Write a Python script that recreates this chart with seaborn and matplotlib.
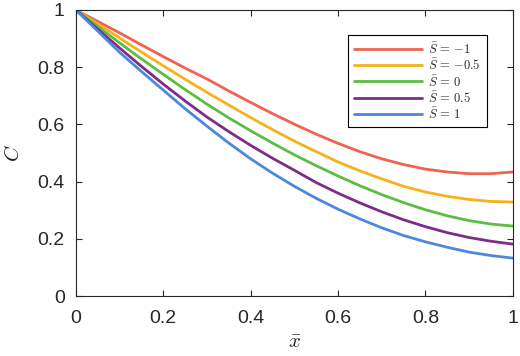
import numpy as np
import pandas as pd
import matplotlib
matplotlib.use("Agg")
import matplotlib.pyplot as plt
import seaborn as sns

# data
x_bar = [0.0, 0.05, 0.1, 0.15, 0.2, 0.25, 0.3, 0.35, 0.4, 0.45, 0.5,
         0.55, 0.6, 0.65, 0.7, 0.75, 0.8, 0.85, 0.9, 0.95, 1.0]
c_s_m1 = [1.0, 0.96, 0.92, 0.878, 0.837, 0.797, 0.759, 0.717, 0.677, 0.638, 0.601,
          0.566, 0.534, 0.505, 0.48, 0.46, 0.444, 0.434, 0.428, 0.428, 0.434]
c_s_m05 = [1.0, 0.951, 0.902, 0.853, 0.805, 0.758, 0.712, 0.668, 0.624, 0.582, 0.542,
           0.505, 0.469, 0.438, 0.41, 0.384, 0.364, 0.349, 0.338, 0.331, 0.329]
c_s_0 = [1.0, 0.942, 0.885, 0.829, 0.775, 0.722, 0.671, 0.623, 0.578, 0.535, 0.494,
         0.456, 0.42, 0.386, 0.355, 0.327, 0.302, 0.281, 0.264, 0.252, 0.245]
c_s_05 = [1.0, 0.933, 0.867, 0.803, 0.741, 0.682, 0.626, 0.575, 0.527, 0.482, 0.44,
          0.397, 0.36, 0.326, 0.295, 0.267, 0.243, 0.222, 0.205, 0.192, 0.182]
c_s_1 = [1.0, 0.926, 0.852, 0.785, 0.72, 0.655, 0.594, 0.535, 0.48, 0.43, 0.384,
         0.342, 0.304, 0.27, 0.239, 0.212, 0.19, 0.171, 0.154, 0.142, 0.133]

labels = [r'$\bar{S}\,=\,{-1}$', r'$\bar{S}\,=\,{-0.5}$', r'$\bar{S}\,=\,0$',
          r'$\bar{S}\,=\,0.5$', r'$\bar{S}\,=\,1$']
colors = ['#EF6350', '#F7B11B', '#5CBD42', '#7D2C87', '#4C88DD']
ticks = [0, 0.2, 0.4, 0.6, 0.8, 1]
tick_labels = ['0', '0.2', '0.4', '0.6', '0.8', '1']

df = pd.concat([
    pd.DataFrame({'x': x_bar, 'C': c, 'S': lab})
    for c, lab in zip([c_s_m1, c_s_m05, c_s_0, c_s_05, c_s_1], labels)
])

sns.set_style("ticks")
plt.rcParams['font.family'] = ['Liberation Sans', 'DejaVu Sans']
plt.rcParams['mathtext.fontset'] = 'cm'

fig = plt.figure(figsize=(5.2, 3.56), dpi=100)
ax = fig.add_axes([0.146, 0.168, 0.840, 0.804])

sns.lineplot(data=df, x='x', y='C', hue='S', palette=colors, linewidth=2.0, ax=ax)

ax.set_xlim(0, 1)
ax.set_ylim(0, 1)
ax.set_xticks(ticks)
ax.set_xticklabels(tick_labels)
ax.set_yticks(ticks)
ax.set_yticklabels(tick_labels)
ax.tick_params(direction='in', top=True, right=True, labelsize=14, length=4,
               width=0.8, color='#262626', labelcolor='#262626')
ax.tick_params(axis='x', pad=10)
ax.tick_params(axis='y', pad=8)
for sp in ax.spines.values():
    sp.set_visible(True)
    sp.set_linewidth(0.8)
    sp.set_color('#262626')

ax.set_xlabel(r'$\bar{x}$', fontsize=15, labelpad=4)
ax.set_ylabel(r'$\bar{C}$', fontsize=15, labelpad=10)

leg = ax.legend(loc='upper right', bbox_to_anchor=(0.9405, 0.9126), borderaxespad=0,
                fontsize=9, handlelength=5.4, frameon=True, fancybox=False, framealpha=1,
                edgecolor='black', borderpad=0.5, labelspacing=0.1, handletextpad=0.5)
leg.get_frame().set_linewidth(0.8)

fig.savefig('out.png', dpi=100)
